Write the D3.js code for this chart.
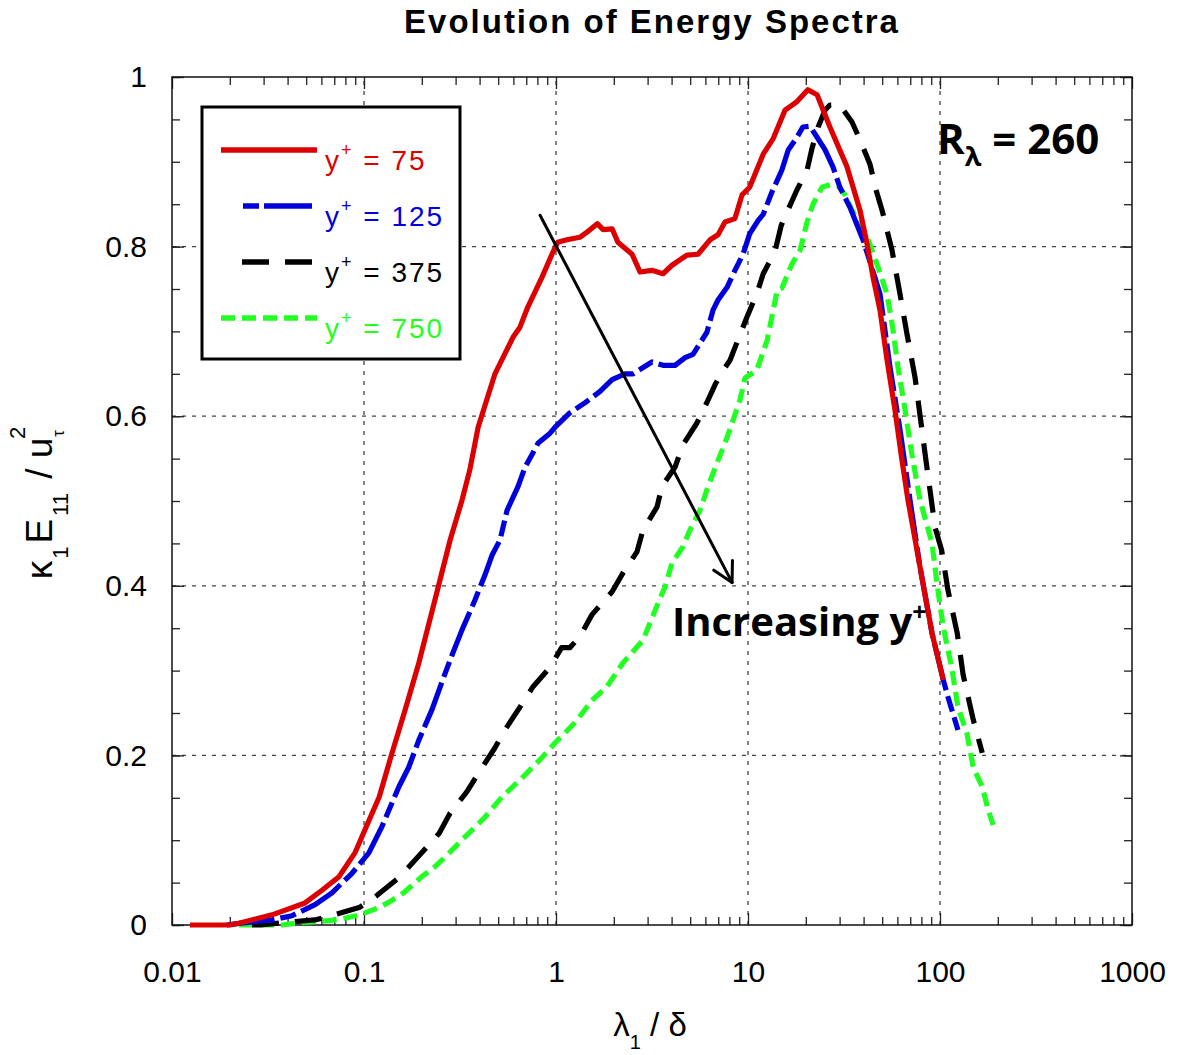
<!DOCTYPE html>
<html>
<head>
<meta charset="utf-8">
<script src="https://cdn.jsdelivr.net/npm/d3@7"></script>
<style>
  body { margin: 0; background: #fff; }
  svg { display: block; }
</style>
</head>
<body>
<svg id="chart" width="1188" height="1055"></svg>
<script>
// Premultiplied streamwise spectra k1*E11/u_tau^2 versus wavelength lambda1/delta
// Each series: [lambda1/delta, k1 E11 / u_tau^2]
const spectrumY75 = [
  [0.0124,0],[0.0200,0],[0.0223,0.002],[0.0332,0.012],[0.0493,0.026],[0.0604,0.041],[0.0741,0.057],
  [0.0897,0.085],[0.101,0.112],[0.120,0.151],[0.140,0.203],[0.164,0.254],[0.193,0.309],[0.234,0.383],
  [0.281,0.454],[0.324,0.501],[0.356,0.537],[0.393,0.587],[0.427,0.613],[0.481,0.650],[0.597,0.693],
  [0.649,0.705],[0.714,0.729],[0.846,0.764],[0.953,0.791],[1.02,0.805],[1.14,0.808],[1.33,0.811],
  [1.45,0.817],[1.64,0.827],[1.76,0.820],[1.96,0.821],[2.10,0.805],[2.49,0.791],[2.74,0.770],
  [3.16,0.772],[3.61,0.768],[4.02,0.778],[4.81,0.790],[5.49,0.791],[6.34,0.808],[6.98,0.814],
  [7.59,0.829],[8.55,0.833],[9.31,0.861],[10.2,0.870],[12.0,0.909],[13.5,0.927],[15.6,0.961],
  [18.0,0.971],[20.5,0.985],[22.9,0.979],[26.7,0.941],[32.8,0.894],[38.3,0.843],[41.7,0.803],
  [44.8,0.764],[48.7,0.725],[53.0,0.666],[58.3,0.607],[63.4,0.548],[68.1,0.501],[78.7,0.422],
  [90.9,0.344],[104,0.289]
];
const spectrumY125 = [
  [0.0193,0],[0.0223,0.002],[0.0332,0.006],[0.0422,0.011],[0.0556,0.024],[0.0681,0.038],[0.0866,0.061],
  [0.106,0.085],[0.124,0.116],[0.152,0.163],[0.171,0.186],[0.193,0.218],[0.226,0.254],[0.255,0.287],
  [0.287,0.318],[0.324,0.348],[0.378,0.383],[0.427,0.413],[0.464,0.436],[0.511,0.454],[0.556,0.489],
  [0.634,0.517],[0.690,0.540],[0.759,0.557],[0.805,0.568],[0.931,0.580],[0.989,0.587],[1.18,0.604],
  [1.42,0.616],[1.69,0.629],[1.96,0.643],[2.29,0.650],[2.52,0.650],[3.16,0.664],[3.61,0.660],
  [4.17,0.660],[4.70,0.669],[5.17,0.673],[5.62,0.686],[6.11,0.699],[6.57,0.725],[6.98,0.737],
  [7.78,0.752],[8.55,0.772],[9.42,0.791],[10.2,0.815],[11.3,0.831],[12.0,0.838],[13.3,0.864],
  [15.0,0.890],[16.2,0.914],[18.0,0.929],[19.3,0.941],[21.0,0.942],[22.9,0.929],[25.2,0.914],
  [27.7,0.894],[30.1,0.870],[34.0,0.846],[39.7,0.808],[44.2,0.775],[48.7,0.744],[54.9,0.658],
  [61.9,0.584],[69.8,0.501],[78.7,0.422],[90.9,0.344],[104,0.289],[110,0.269],[124,0.230]
];
const spectrumY375 = [
  [0.0261,0],[0.0287,0],[0.0437,0.004],[0.0556,0.006],[0.0698,0.012],[0.0953,0.021],[0.117,0.035],
  [0.154,0.057],[0.196,0.083],[0.246,0.108],[0.281,0.132],[0.343,0.157],[0.397,0.180],[0.481,0.209],
  [0.542,0.230],[0.649,0.257],[0.759,0.281],[0.931,0.304],[1.07,0.327],[1.18,0.327],[1.33,0.340],
  [1.54,0.366],[1.96,0.393],[2.23,0.415],[2.64,0.440],[2.84,0.466],[3.36,0.493],[3.56,0.517],
  [4.17,0.540],[4.58,0.566],[5.42,0.592],[6.19,0.619],[6.73,0.637],[7.32,0.652],[8.06,0.666],
  [9.08,0.696],[9.88,0.717],[11.1,0.744],[12.0,0.768],[13.8,0.794],[14.9,0.825],[16.2,0.844],
  [18.0,0.867],[20.3,0.890],[21.5,0.915],[23.2,0.941],[25.2,0.961],[26.7,0.967],[30.1,0.967],
  [34.8,0.947],[38.3,0.926],[43.2,0.897],[46.4,0.867],[49.9,0.843],[56.2,0.796],[61.9,0.744],
  [67.3,0.697],[74.1,0.646],[78.7,0.601],[84.5,0.548],[94.2,0.469],[102,0.442],[110,0.395],
  [123,0.344],[132,0.295],[149,0.242],[166,0.203]
];
const spectrumY750 = [
  [0.0223,0],[0.0294,0],[0.0374,0],[0.0437,0.002],[0.0569,0.004],[0.0723,0.006],[0.0953,0.012],
  [0.121,0.021],[0.135,0.027],[0.161,0.038],[0.200,0.057],[0.232,0.068],[0.264,0.080],[0.336,0.104],
  [0.422,0.126],[0.523,0.151],[0.649,0.171],[0.826,0.195],[1.00,0.216],[1.26,0.239],[1.54,0.265],
  [1.84,0.281],[2.23,0.309],[2.84,0.336],[3.28,0.371],[3.70,0.399],[4.02,0.427],[4.58,0.446],
  [4.99,0.466],[5.62,0.489],[6.19,0.517],[6.90,0.545],[7.78,0.575],[9.08,0.619],[9.65,0.645],
  [11.1,0.654],[12.6,0.690],[14.2,0.749],[15.0,0.751],[16.9,0.779],[18.7,0.796],[20.3,0.829],
  [21.8,0.850],[24.3,0.870],[26.7,0.873],[29.4,0.872],[32.0,0.861],[34.8,0.843],[38.3,0.827],
  [41.7,0.812],[47.0,0.779],[53.0,0.744],[56.9,0.702],[60.4,0.658],[65.8,0.607],[71.5,0.554],
  [78.7,0.501],[90.9,0.450],[96.4,0.403],[104,0.351],[115,0.304],[124,0.257],[138,0.226],
  [149,0.186],[166,0.163],[178,0.136],[189,0.118]
];

const seriesLabels = ["75", "125", "375", "750"];
const xTickValues = [0.01, 0.1, 1, 10, 100, 1000];
const xTickLabels = ["0.01", "0.1", "1", "10", "100", "1000"];
const yTickValues = [0, 0.2, 0.4, 0.6, 0.8, 1];
const yTickLabels = ["0", "0.2", "0.4", "0.6", "0.8", "1"];
const trendArrow = [[0.826, 0.837], [8.26, 0.404]];
const trendLabelAt = [4.02, 0.341];
const reynoldsLabelAt = [96.4, 0.909];

const series = [
  { data: spectrumY75,  color: "#dd0000", dash: null,        legendDash: null },
  { data: spectrumY125, color: "#0000dd", dash: "48,6,16,6", legendDash: "16,5,48,5" },
  { data: spectrumY375, color: "#000000", dash: "27,16",     legendDash: "27,16" },
  { data: spectrumY750, color: "#22ff22", dash: "14,7",      legendDash: "14,7" }
];

const svg = d3.select("#chart");
const FONT = "'Liberation Sans', Arial, sans-serif";
const ANNOT = "'Open Sans', 'Liberation Sans', sans-serif";

const x = d3.scaleLog().domain([0.01, 1000]).range([172, 1132]);
const y = d3.scaleLinear().domain([0, 1]).range([925, 77]);
const [x0, x1] = x.range();
const [y0, y1] = y.range();

// Grid lines
const grid = svg.append("g").attr("stroke", "#444").attr("stroke-width", 1.3).attr("stroke-dasharray", "4,6");
grid.selectAll("line.gx").data(xTickValues.slice(1, -1)).join("line")
  .attr("x1", d => x(d)).attr("x2", d => x(d)).attr("y1", y0).attr("y2", y1);
grid.selectAll("line.gy").data(yTickValues.slice(1, -1)).join("line")
  .attr("x1", x0).attr("x2", x1).attr("y1", d => y(d)).attr("y2", d => y(d));

// Minor tick positions
const xMinor = [];
for (let e = -2; e < 3; e++) for (let m = 2; m <= 9; m++) xMinor.push(m * Math.pow(10, e));
const yMinor = d3.range(0, 1.0001, 0.05).map(v => +v.toFixed(2));

function styleAxis(g) {
  g.select(".domain").remove();
  g.selectAll(".tick line").attr("stroke", "#222").attr("stroke-width", 1.3);
  g.selectAll("text").attr("font-family", FONT).attr("font-size", 30).attr("fill", "#000");
}

// Bottom axis
svg.append("g").attr("transform", `translate(0,${y0})`)
  .call(d3.axisBottom(x).tickValues(xMinor).tickSize(-8).tickFormat(""))
  .call(styleAxis);
svg.append("g").attr("transform", `translate(0,${y0})`)
  .call(d3.axisBottom(x).tickValues(xTickValues).tickSize(-12).tickPadding(36)
    .tickFormat((d, i) => xTickLabels[i]))
  .call(styleAxis);
// Top axis
svg.append("g").attr("transform", `translate(0,${y1})`)
  .call(d3.axisTop(x).tickValues(xMinor).tickSize(-8).tickFormat(""))
  .call(styleAxis);
svg.append("g").attr("transform", `translate(0,${y1})`)
  .call(d3.axisTop(x).tickValues(xTickValues).tickSize(-12).tickFormat(""))
  .call(styleAxis);
// Left axis
svg.append("g").attr("transform", `translate(${x0},0)`)
  .call(d3.axisLeft(y).tickValues(yMinor).tickSize(-8).tickFormat(""))
  .call(styleAxis);
svg.append("g").attr("transform", `translate(${x0},0)`)
  .call(d3.axisLeft(y).tickValues(yTickValues).tickSize(-12).tickPadding(25)
    .tickFormat((d, i) => yTickLabels[i]))
  .call(styleAxis);
// Right axis
svg.append("g").attr("transform", `translate(${x1},0)`)
  .call(d3.axisRight(y).tickValues(yMinor).tickSize(-8).tickFormat(""))
  .call(styleAxis);
svg.append("g").attr("transform", `translate(${x1},0)`)
  .call(d3.axisRight(y).tickValues(yTickValues).tickSize(-12).tickFormat(""))
  .call(styleAxis);

// Frame
svg.append("rect").attr("x", x0).attr("y", y1).attr("width", x1 - x0).attr("height", y0 - y1)
  .attr("fill", "none").attr("stroke", "#111").attr("stroke-width", 1.5);

// Spectra
const line = d3.line().x(d => x(d[0])).y(d => y(d[1]));
series.slice().reverse().forEach(s => {
  svg.append("path").datum(s.data)
    .attr("d", line)
    .attr("fill", "none")
    .attr("stroke", s.color)
    .attr("stroke-width", 5.2)
    .attr("stroke-linejoin", "round")
    .attr("stroke-dasharray", s.dash);
});

// Trend arrow
const [ax0, ay0] = [x(trendArrow[0][0]), y(trendArrow[0][1])];
const [ax1, ay1] = [x(trendArrow[1][0]), y(trendArrow[1][1])];
const arrow = svg.append("g").attr("stroke", "#000").attr("stroke-width", 3).attr("stroke-linecap", "round");
arrow.append("line").attr("x1", ax0).attr("y1", ay0).attr("x2", ax1).attr("y2", ay1);
const ang = Math.atan2(ay0 - ay1, ax0 - ax1);
[-0.5, 0.5].forEach(off => {
  arrow.append("line").attr("x1", ax1).attr("y1", ay1)
    .attr("x2", ax1 + 22 * Math.cos(ang + off)).attr("y2", ay1 + 22 * Math.sin(ang + off));
});

// Annotations
const trend = svg.append("text")
  .attr("x", x(trendLabelAt[0])).attr("y", y(trendLabelAt[1]))
  .attr("font-family", ANNOT).attr("font-weight", 700).attr("font-size", 40).attr("fill", "#000");
trend.append("tspan").text("Increasing y");
trend.append("tspan").attr("font-size", 25).attr("dy", -15).text("+");

const re = svg.append("text")
  .attr("x", x(reynoldsLabelAt[0])).attr("y", y(reynoldsLabelAt[1]))
  .attr("font-family", ANNOT).attr("font-weight", 700).attr("font-size", 42).attr("fill", "#000");
re.append("tspan").text("R");
re.append("tspan").attr("font-size", 27).attr("dy", 12).text("λ");
re.append("tspan").attr("dy", -12).text(" = 260");

// Legend
const legend = svg.append("g");
legend.append("rect").attr("x", 202).attr("y", 107).attr("width", 258).attr("height", 252)
  .attr("fill", "#fff").attr("stroke", "#000").attr("stroke-width", 3);
const legendRows = [
  { x1: 221, x2: 317 }, { x1: 243, x2: 312 }, { x1: 242, x2: 312 }, { x1: 221, x2: 317 }
];
series.forEach((s, i) => {
  const cy = 150 + i * 56;
  legend.append("line")
    .attr("x1", legendRows[i].x1).attr("x2", legendRows[i].x2).attr("y1", cy).attr("y2", cy)
    .attr("stroke", s.color).attr("stroke-width", 5.5)
    .attr("stroke-dasharray", s.legendDash);
  const t = legend.append("text").attr("x", 325).attr("y", cy + 20)
    .attr("font-family", FONT).attr("font-size", 28).attr("letter-spacing", 2)
    .attr("fill", s.color);
  t.append("tspan").text("y");
  t.append("tspan").attr("font-size", 18).attr("dy", -14).text("+");
  t.append("tspan").attr("dy", 14).text(" = " + seriesLabels[i]);
});

// Title
svg.append("text").attr("x", 652).attr("y", 33).attr("text-anchor", "middle")
  .attr("font-family", FONT).attr("font-weight", "bold").attr("font-size", 33)
  .attr("letter-spacing", 2)
  .text("Evolution of Energy Spectra");

// X axis label
const xl = svg.append("text").attr("x", 650).attr("y", 1036).attr("text-anchor", "middle")
  .attr("font-family", FONT).attr("font-size", 33);
xl.append("tspan").text("λ");
xl.append("tspan").attr("font-size", 20).attr("dy", 13).text("1");
xl.append("tspan").attr("dy", -13).text(" / δ");

// Y axis label
const yl = svg.append("text").attr("transform", "translate(52,503) rotate(-90)")
  .attr("text-anchor", "middle").attr("font-family", FONT).attr("font-size", 37);
yl.append("tspan").text("κ");
yl.append("tspan").attr("font-size", 22).attr("dx", 2).attr("dy", 16).text("1");
yl.append("tspan").attr("dx", 3).attr("dy", -16).text("E");
yl.append("tspan").attr("font-size", 22).attr("dx", 3).attr("dy", 16).text("11");
yl.append("tspan").attr("dx", 4).attr("dy", -16).text(" / u");
yl.append("tspan").attr("font-size", 17).attr("dx", 1).attr("dy", 12).text("τ");
yl.append("tspan").attr("font-size", 22).attr("dx", -9).attr("dy", -39).text("2");
</script>
</body>
</html>
